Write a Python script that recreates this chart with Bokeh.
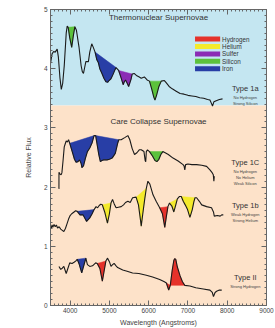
import numpy as np
from bokeh.plotting import figure
from bokeh.models import LinearAxis, BoxAnnotation, FixedTicker, Label, Range1d
from bokeh.embed import file_html
from bokeh.resources import INLINE

# ---------------- data ----------------
elements = ["Hydrogen", "Helium", "Sulfer", "Silicon", "Iron"]
element_colors = ["#e5322b", "#f4ea2c", "#8b2cb5", "#5cc23c", "#283ea6"]

wl_ia = [3500, 3540, 3580, 3620, 3670, 3700, 3740, 3775, 3810, 3850, 3900, 3925, 3950, 3990,
         4040, 4080, 4120, 4160, 4225, 4280, 4310, 4340, 4370, 4400, 4465, 4500, 4550, 4590,
         4635, 4680, 4720, 4755, 4810, 4860, 4910, 4960, 4990, 5040, 5090, 5140, 5170, 5210,
         5235, 5300, 5350, 5380, 5410, 5450, 5490, 5550, 5580, 5630, 5700, 5760, 5810, 5890,
         5960, 6020, 6080, 6130, 6160, 6200, 6260, 6320, 6400, 6450, 6520, 6600, 6700, 6800,
         6900, 7000, 7100, 7200, 7300, 7400, 7500, 7560, 7600, 7625, 7660, 7720, 7800, 7880]
fl_ia = [4.09, 4.25, 4.29, 4.28, 4.33, 4.20, 3.85, 3.65, 3.75, 4.05, 4.60, 4.72, 4.70, 4.52,
         4.36, 4.55, 4.71, 4.65, 4.37, 4.05, 3.95, 3.92, 4.02, 4.12, 4.12, 4.28, 4.42, 4.36,
         4.28, 4.15, 4.10, 4.00, 3.92, 3.84, 3.78, 3.77, 3.80, 3.83, 3.90, 3.98, 4.02, 3.99,
         3.97, 3.84, 3.73, 3.78, 3.81, 3.76, 3.70, 3.82, 3.91, 3.92, 3.88, 3.86, 3.84, 3.86,
         3.81, 3.79, 3.65, 3.52, 3.47, 3.55, 3.70, 3.79, 3.80, 3.76, 3.70, 3.66, 3.62, 3.58,
         3.57, 3.55, 3.54, 3.53, 3.51, 3.50, 3.48, 3.47, 3.41, 3.37, 3.44, 3.46, 3.48, 3.49]
regions_ia = [("Silicon", 3950, 4120), ("Iron", 4635, 5170),
              ("Sulfer", 5235, 5580), ("Silicon", 6020, 6320)]

wl_ic = [3715, 3716, 3740, 3770, 3790, 3820, 3850, 3880, 3900, 3930, 3960, 3990, 4070, 4110,
         4150, 4200, 4240, 4280, 4300, 4340, 4390, 4440, 4500, 4560, 4610, 4650, 4690, 4730,
         4770, 4810, 4855, 4900, 4940, 5000, 5070, 5150, 5210, 5240, 5300, 5400, 5470, 5520,
         5580, 5640, 5700, 5760, 5810, 5880, 5910, 5925, 5940, 5970, 6020, 6100, 6160, 6210,
         6260, 6310, 6360, 6420, 6500, 6620, 6750, 6875, 6900, 6920, 6940, 7000, 7100, 7220,
         7350, 7475, 7560, 7620, 7645, 7660, 7670, 7680]
fl_ic = [1.97, 2.25, 2.22, 2.21, 2.24, 2.45, 2.68, 2.74, 2.78, 2.76, 2.80, 2.74, 2.56, 2.47,
         2.42, 2.43, 2.46, 2.40, 2.33, 2.36, 2.49, 2.60, 2.66, 2.75, 2.87, 2.87, 2.71, 2.55,
         2.43, 2.45, 2.46, 2.46, 2.46, 2.47, 2.49, 2.57, 2.74, 2.80, 2.80, 2.84, 2.87, 2.80,
         2.65, 2.55, 2.58, 2.63, 2.63, 2.60, 2.45, 2.43, 2.60, 2.63, 2.60, 2.52, 2.45, 2.43,
         2.47, 2.55, 2.60, 2.58, 2.55, 2.49, 2.44, 2.38, 2.36, 2.29, 2.38, 2.39, 2.38, 2.38,
         2.37, 2.35, 2.29, 2.24, 2.21, 2.10, 2.18, 2.17]
regions_ic = [("Iron", 3990, 4610), ("Iron", 4650, 5240), ("Silicon", 6020, 6360)]

wl_ib = [3500, 3520, 3540, 3560, 3590, 3620, 3650, 3680, 3720, 3760, 3800, 3840, 3880, 3920,
         3960, 4000, 4040, 4100, 4140, 4180, 4250, 4330, 4420, 4500, 4560, 4610, 4660, 4700,
         4740, 4780, 4820, 4880, 4950, 5000, 5040, 5080, 5120, 5170, 5230, 5300, 5360, 5410,
         5470, 5530, 5590, 5680, 5740, 5790, 5810, 5850, 5900, 5940, 5980, 6030, 6110, 6190,
         6280, 6350, 6410, 6450, 6490, 6530, 6590, 6640, 6690, 6730, 6780, 6830, 6880, 6930,
         6990, 7050, 7110, 7150, 7180, 7220, 7290, 7350, 7475, 7600, 7650, 7670, 7750, 7820,
         7860, 7900]
fl_ib = [1.34, 1.30, 1.36, 1.32, 1.37, 1.33, 1.36, 1.31, 1.33, 1.29, 1.27, 1.25, 1.30, 1.38,
         1.46, 1.52, 1.55, 1.58, 1.60, 1.59, 1.53, 1.53, 1.42, 1.48, 1.55, 1.62, 1.67, 1.65,
         1.69, 1.71, 1.70, 1.58, 1.39, 1.55, 1.73, 1.79, 1.72, 1.65, 1.66, 1.67, 1.70, 1.74,
         1.76, 1.74, 1.82, 1.83, 1.70, 1.45, 1.34, 1.55, 1.80, 1.98, 2.10, 2.05, 1.87, 1.76,
         1.65, 1.55, 1.32, 1.50, 1.67, 1.73, 1.68, 1.58, 1.70, 1.80, 1.84, 1.84, 1.76, 1.70,
         1.62, 1.49, 1.62, 1.75, 1.82, 1.82, 1.76, 1.70, 1.67, 1.65, 1.58, 1.51, 1.52, 1.51,
         1.53, 1.53]
regions_ib = [("Iron", 4180, 4610), ("Helium", 4820, 5040), ("Helium", 5680, 5940),
              ("Hydrogen", 6280, 6490), ("Helium", 6530, 6730), ("Helium", 6830, 7180)]

wl_ii = [3715, 3760, 3800, 3840, 3870, 3900, 3940, 3990, 4050, 4100, 4140, 4180, 4230, 4295,
         4350, 4400, 4440, 4500, 4570, 4650, 4690, 4760, 4820, 4870, 4910, 4950, 5000, 5040,
         5080, 5120, 5170, 5210, 5340, 5450, 5590, 5750, 5940, 6100, 6280, 6400, 6450, 6490,
         6510, 6530, 6550, 6600, 6640, 6660, 6690, 6730, 6800, 6860, 6920, 7050, 7200, 7390,
         7560, 7620, 7650, 7690, 7730, 7800, 7860]
fl_ii = [0.66, 0.61, 0.63, 0.66, 0.60, 0.54, 0.62, 0.72, 0.71, 0.73, 0.75, 0.78, 0.70, 0.55,
         0.68, 0.80, 0.69, 0.66, 0.67, 0.72, 0.71, 0.62, 0.41, 0.60, 0.75, 0.80, 0.74, 0.66,
         0.69, 0.71, 0.67, 0.64, 0.60, 0.58, 0.55, 0.54, 0.51, 0.48, 0.44, 0.40, 0.38, 0.30,
         0.26, 0.30, 0.34, 0.60, 0.76, 0.79, 0.78, 0.65, 0.50, 0.40, 0.34, 0.33, 0.30, 0.28,
         0.26, 0.22, 0.15, 0.22, 0.24, 0.26, 0.26]
regions_ii = [("Iron", 4180, 4400), ("Hydrogen", 4690, 4910),
              ("Hydrogen", 6450, 6550), ("Hydrogen", 6550, 6920)]

x_ticks = [4000, 5000, 6000, 7000, 8000, 9000]
y_ticks = [0, 1, 2, 3, 4, 5]

# ---------------- figure ----------------
FONT = "Liberation Sans"
p = figure(width=275, height=328, output_backend="svg", toolbar_location=None,
           x_range=Range1d(3500, 9000), y_range=Range1d(0, 5),
           min_border_left=50, min_border_right=9, min_border_top=9, min_border_bottom=20)
p.grid.visible = False
p.outline_line_color = "#666666"
p.background_fill_color = "white"
p.border_fill_color = "white"

p.add_layout(BoxAnnotation(bottom=3.38, fill_color="#c4e6f1", fill_alpha=1.0,
                           line_color=None, level="underlay"))
p.add_layout(BoxAnnotation(top=3.38, fill_color="#fde2c9", fill_alpha=1.0,
                           line_color=None, level="underlay"))

xminor = list(range(3500, 9001, 100))
yminor = [round(v * 0.1, 1) for v in range(0, 51)]
xt = FixedTicker(ticks=x_ticks, minor_ticks=xminor)
yt = FixedTicker(ticks=y_ticks, minor_ticks=yminor)


def style_axis(ax, labels=True):
    ax.axis_line_color = "#666666"
    ax.major_tick_line_color = "#666666"
    ax.minor_tick_line_color = "#666666"
    ax.major_tick_in = 5
    ax.major_tick_out = 0
    ax.minor_tick_in = 2
    ax.minor_tick_out = 0
    if labels:
        ax.major_label_text_font = FONT
        ax.major_label_text_font_size = "6.5px"
        ax.major_label_text_color = "#444444"
        ax.axis_label_text_font = FONT
        ax.axis_label_text_font_size = "7px"
        ax.axis_label_text_font_style = "normal"
        ax.axis_label_text_color = "#444444"
    else:
        ax.major_label_text_font_size = "1px"
        ax.major_label_text_color = None
        ax.major_label_standoff = 0


p.xaxis.ticker = xt
p.yaxis.ticker = yt
p.xaxis.axis_label = "Wavelength (Angstroms)"
p.yaxis.axis_label = "Relative Flux"
style_axis(p.xaxis[0])
style_axis(p.yaxis[0])
p.xaxis.major_label_standoff = 2
p.xaxis.axis_label_standoff = 3
p.yaxis.major_label_standoff = 3
p.yaxis.axis_label_standoff = 9

top_ax = LinearAxis(ticker=FixedTicker(ticks=x_ticks, minor_ticks=xminor))
right_ax = LinearAxis(ticker=FixedTicker(ticks=y_ticks, minor_ticks=yminor))
style_axis(top_ax, labels=False)
style_axis(right_ax, labels=False)
p.add_layout(top_ax, "above")
p.add_layout(right_ax, "right")

color_of = dict(zip(elements, element_colors))


def segment(wl, fl, a, b):
    wl = np.asarray(wl, dtype=float)
    fl = np.asarray(fl, dtype=float)
    m = (wl > a) & (wl < b)
    xs = [a] + list(wl[m]) + [b]
    ys = [float(np.interp(a, wl, fl))] + list(fl[m]) + [float(np.interp(b, wl, fl))]
    return xs, ys


for wl, fl, regs in [(wl_ia, fl_ia, regions_ia), (wl_ic, fl_ic, regions_ic),
                     (wl_ib, fl_ib, regions_ib), (wl_ii, fl_ii, regions_ii)]:
    pxs, pys, cols = [], [], []
    for el, a, b in regs:
        xs, ys = segment(wl, fl, a, b)
        pxs.append(xs)
        pys.append(ys)
        cols.append(color_of[el])
    p.patches(pxs, pys, fill_color=cols, line_color=cols, line_width=0.5)
    p.line(wl, fl, line_color="#1a1a1a", line_width=1.1)

# legend boxes
leg_x = 7500
leg_y = [4.50 - i * 0.125 for i in range(len(elements))]
p.rect(x=[leg_x] * len(elements), y=leg_y, width=640, height=0.085,
       fill_color=element_colors, line_color=None)
for name, yy in zip(elements, leg_y):
    p.add_layout(Label(x=7870, y=yy, text=name, text_font=FONT, text_font_size="6.3px",
                       text_color="#333333", text_baseline="middle", text_align="left"))

# titles
for txt, yy in [("Thermonuclear Supernovae", 4.86), ("Care Collapse Supernovae", 3.10)]:
    p.add_layout(Label(x=6250, y=yy, text=txt, text_font=FONT, text_font_size="8px",
                       text_color="#333333", text_baseline="middle", text_align="center"))

type_labels = [("Type 1a", 3.66, ["No Hydrogen", "Strong Silicon"]),
               ("Type 1C", 2.41, ["No Hydrogen", "No Helium", "Weak Silicon"]),
               ("Type 1b", 1.69, ["Weak Hydrogen", "Strong Helium"]),
               ("Type II", 0.47, ["Strong Hydrogen"])]
for title, yy, subs in type_labels:
    p.add_layout(Label(x=8460, y=yy, text=title, text_font=FONT, text_font_size="7.5px",
                       text_color="#333333", text_baseline="middle", text_align="center"))
    for i, s in enumerate(subs):
        p.add_layout(Label(x=8460, y=yy - 0.15 - i * 0.1, text=s, text_font=FONT,
                           text_font_size="4px", text_color="#444444",
                           text_baseline="middle", text_align="center"))

open("out.html", "w").write(file_html(p, INLINE))
